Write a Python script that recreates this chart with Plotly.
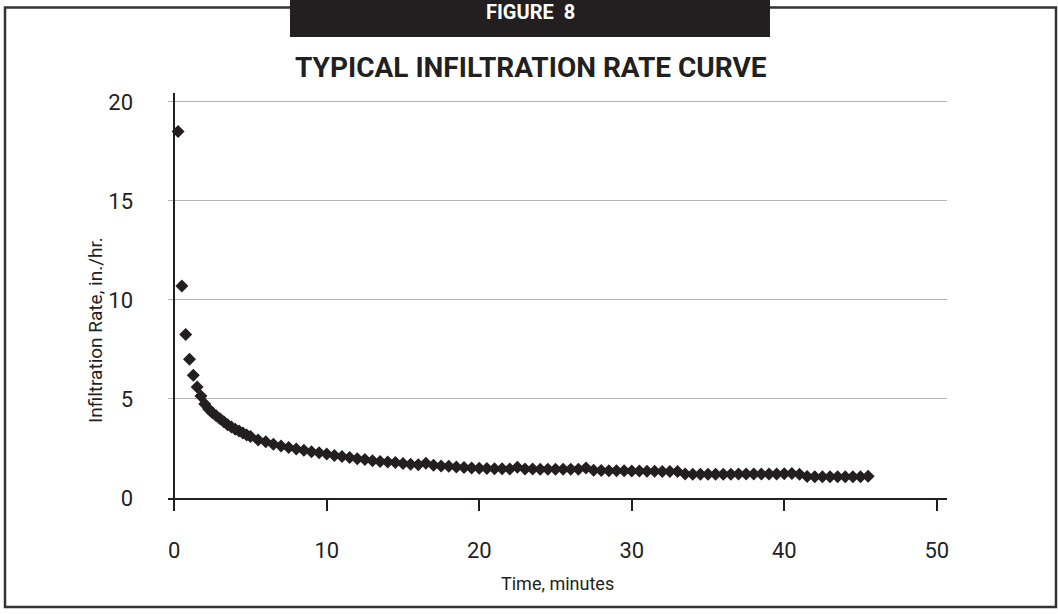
import plotly.graph_objects as go

# ---------------- data ----------------
time_min = [0.25, 0.5, 0.75, 1.0, 1.25, 1.5, 1.75, 2.0, 2.25, 2.5, 2.75, 3.0, 3.25, 3.5,
            3.75, 4.0, 4.25, 4.5, 4.75, 5.0,
            5.5, 6.0, 6.5, 7.0, 7.5, 8.0, 8.5, 9.0, 9.5, 10.0, 10.5, 11.0, 11.5, 12.0,
            12.5, 13.0, 13.5, 14.0, 14.5, 15.0, 15.5, 16.0, 16.5, 17.0, 17.5, 18.0,
            18.5, 19.0, 19.5, 20.0, 20.5, 21.0, 21.5, 22.0, 22.5, 23.0, 23.5, 24.0,
            24.5, 25.0, 25.5, 26.0, 26.5, 27.0, 27.5, 28.0, 28.5, 29.0, 29.5, 30.0,
            30.5, 31.0, 31.5, 32.0, 32.5, 33.0, 33.5, 34.0, 34.5, 35.0, 35.5, 36.0,
            36.5, 37.0, 37.5, 38.0, 38.5, 39.0, 39.5, 40.0, 40.5, 41.0, 41.5, 42.0,
            42.5, 43.0, 43.5, 44.0, 44.5, 45.0, 45.5]

rate_in_hr = [18.5, 10.7, 8.25, 7.0, 6.2, 5.6, 5.15, 4.75, 4.5, 4.3, 4.15, 4.0, 3.85, 3.7,
              3.58, 3.47, 3.38, 3.28, 3.18, 3.1,
              2.93, 2.84, 2.72, 2.63, 2.55, 2.47, 2.41, 2.34, 2.28, 2.22, 2.15, 2.10, 2.04, 1.98,
              1.94, 1.88, 1.84, 1.82, 1.79, 1.74, 1.70, 1.68, 1.75, 1.65, 1.61, 1.60,
              1.57, 1.54, 1.51, 1.50, 1.49, 1.48, 1.48, 1.47, 1.55, 1.46, 1.46, 1.45,
              1.45, 1.45, 1.45, 1.45, 1.45, 1.52, 1.40, 1.39, 1.38, 1.37, 1.37, 1.36,
              1.36, 1.35, 1.35, 1.34, 1.34, 1.34, 1.21, 1.20, 1.20, 1.20, 1.20, 1.20,
              1.20, 1.21, 1.21, 1.21, 1.21, 1.21, 1.21, 1.22, 1.24, 1.20, 1.09, 1.07,
              1.07, 1.07, 1.07, 1.07, 1.07, 1.07, 1.10]

y_ticks = [0, 5, 10, 15, 20]
x_ticks = [0, 10, 20, 30, 40, 50]

title_text = "TYPICAL INFILTRATION RATE CURVE"
figure_label = "FIGURE  8"
x_title = "Time, minutes"
y_title = "Infiltration Rate, in./hr."

# ---------------- layout geometry (pixels) ----------------
W, H = 1058, 614
L, R, T, B = 168, 111, 93, 116
PW, PH = W - L - R, H - T - B

def px(x):  # pixel x -> paper
    return (x - L) / PW

def py(y):  # pixel y -> paper
    return (H - B - y) / PH

FONT = "Liberation Sans Narrow, Roboto, Liberation Sans, sans-serif"
INK = "#231f20"

fig = go.Figure()
fig.add_trace(go.Scatter(
    x=time_min, y=rate_in_hr, mode="markers",
    marker=dict(symbol="diamond", size=10, color=INK, line=dict(width=0)),
    showlegend=False, hoverinfo="x+y",
))

fig.update_layout(
    width=W, height=H,
    margin=dict(l=L, r=R, t=T, b=B, autoexpand=False),
    paper_bgcolor="white", plot_bgcolor="white",
    font=dict(family=FONT, color=INK),
    xaxis=dict(
        range=[-0.41, 50.67], tickvals=x_ticks, ticktext=[str(v) for v in x_ticks],
        showgrid=False, zeroline=True, zerolinecolor=INK, zerolinewidth=1.5,
        showline=True, linecolor=INK, linewidth=1.5,
        ticks="outside", ticklen=11, tickwidth=1.5, tickcolor=INK,
        tickfont=dict(family=FONT, size=22, color=INK),
        ticklabelstandoff=21,
    ),
    yaxis=dict(
        range=[0, 20.45], tickvals=y_ticks, ticktext=[str(v) for v in y_ticks],
        showgrid=True, gridcolor="#b4b4b4", gridwidth=1,
        zeroline=False, showline=False, ticks="",
        tickfont=dict(family=FONT, size=22, color=INK),
        ticklabelstandoff=34,
    ),
    shapes=[
        dict(type="rect", xref="paper", yref="paper",
             x0=px(5), x1=px(1056), y0=py(607), y1=py(7.5),
             line=dict(color="#333333", width=2.5), fillcolor="rgba(0,0,0,0)", layer="below"),
        dict(type="rect", xref="paper", yref="paper",
             x0=px(290), x1=px(770), y0=py(37), y1=py(-5),
             line=dict(width=0), fillcolor=INK, layer="above"),
    ],
    annotations=[
        dict(text=figure_label, xref="paper", yref="paper", x=px(530), y=py(12),
             xanchor="center", yanchor="middle", showarrow=False,
             font=dict(family=FONT, size=20, color="white", weight="bold")),
        dict(text=title_text, xref="paper", yref="paper", x=px(531), y=py(67),
             xanchor="center", yanchor="middle", showarrow=False,
             font=dict(family=FONT, size=28, color=INK, weight="bold")),
        dict(text=x_title, xref="paper", yref="paper", x=px(557), y=py(583),
             xanchor="center", yanchor="middle", showarrow=False,
             font=dict(family=FONT, size=18, color=INK)),
        dict(text=y_title, xref="paper", yref="paper", x=px(95), y=py(330),
             xanchor="center", yanchor="middle", showarrow=False, textangle=-90,
             font=dict(family=FONT, size=19, color=INK)),
    ],
)

fig.write_html(
    "out.html",
    config={"displayModeBar": False},
    post_script="document.body.style.margin='0';document.body.style.padding='0';",
)
